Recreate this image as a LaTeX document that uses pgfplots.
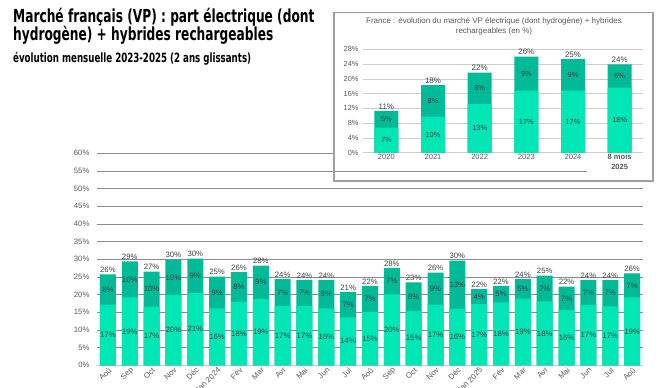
\documentclass[border=0pt]{standalone}
\usepackage{fontspec}
\setmainfont{Liberation Sans}
\newfontfamily\titlefont{DejaVu Sans}[FakeStretch=0.68]
\usepackage{pgfplots}
\usepackage{pgfplotstable}
\pgfplotsset{compat=1.18}
\definecolor{light}{HTML}{00E6B4}
\definecolor{dark}{HTML}{00BA98}
\definecolor{txt}{HTML}{404040}
\definecolor{axt}{HTML}{595959}
\definecolor{grd}{HTML}{8C8C8C}

\pgfplotstableread{
x bot tot lb lt ltot
0 17.2 25.7 17 8 26
1 19.2 29.4 19 10 29
2 16.6 26.5 17 10 27
3 19.9 29.9 20 10 30
4 20.5 30.2 21 9 30
5 16.1 25.1 16 9 25
6 18.0 26.4 18 8 26
7 18.8 28.2 19 9 28
8 16.8 24.4 17 7 24
9 16.8 24.2 17 7 24
10 16.1 24.2 16 8 24
11 13.6 20.8 14 7 21
12 15.1 22.5 15 7 22
13 20.1 27.6 20 7 28
14 15.4 23.5 15 8 23
15 17.2 26.2 17 9 26
16 16.0 29.6 16 13 30
17 17.3 21.6 17 4 22
18 17.8 22.5 18 5 22
19 18.9 24.4 19 5 24
20 18.1 25.4 18 7 25
21 15.6 22.3 16 7 22
22 17.1 24.2 17 7 24
23 16.7 24.1 17 7 24
24 19.2 26.0 19 7 26
}\maindata

\pgfplotstableread{
x bot tot lb lt ltot
0 6.8 11.3 7 5 11
1 9.75 18.3 10 8 18
2 13.2 21.7 13 8 22
3 16.8 26.0 17 9 26
4 16.8 25.4 17 9 25
5 17.6 23.9 18 6 24
}\insetdata

\pgfplotsset{
  pctlab/.style={nodes near coords={\pgfmathprintnumber[fixed,precision=0]{\pgfplotspointmeta}\%},
    point meta=explicit},
}

\begin{document}
\begin{tikzpicture}[x=1bp,y=1bp]
\path[use as bounding box] (0,0) rectangle (663,387);

% titles
\node[anchor=base west, inner sep=0pt, font=\titlefont\bfseries\fontsize{18}{20}\selectfont] at (13,364.5) {Marché français (VP) : part électrique (dont};
\node[anchor=base west, inner sep=0pt, font=\titlefont\bfseries\fontsize{18}{20}\selectfont] at (13,347) {hydrogène) + hybrides rechargeables};
\node[anchor=base west, inner sep=0pt, font=\titlefont\bfseries\fontsize{12.8}{14}\selectfont] at (13,324.5) {évolution mensuelle 2023-2025 (2 ans glissants)};

% main chart
\begin{axis}[
  at={(97bp,21.7bp)}, anchor=south west,
  scale only axis, width=546bp, height=212bp,
  xmin=-0.5, xmax=24.5, ymin=0, ymax=60,
  ytick={0,5,...,60},
  /pgf/number format/assume math mode=true,
  yticklabel={\pgfmathprintnumber{\tick}\%},
  yticklabel style={font=\fontsize{7.8}{9}\selectfont, text=axt, xshift=-4bp},
  xtick={0,...,24},
  xticklabels={Aoû,Sep,Oct,Nov,Déc,Jan 2024,Fév,Mar,Avr,Mai,Jun,Jul,Aoû,Sep,Oct,Nov,Déc,Jan 2025,Fév,Mar,Avr,Mai,Jun,Jul,Aoû},
  xticklabel style={font=\fontsize{7.8}{9}\selectfont, text=axt, rotate=45, anchor=north east, inner sep=1pt},
  major tick length=0pt,
  axis lines*=left,
  y axis line style={draw=none},
  x axis line style={draw=gray!45, line width=1.5pt},
  ymajorgrids, grid style={draw=grd, line width=0.7pt},
  clip=false,
]
\addplot[ybar, bar width=16bp, bar shift=0pt, fill=dark, draw=none] table[x=x,y=tot] \maindata;
\addplot[ybar, bar width=16bp, bar shift=0pt, fill=light, draw=none] table[x=x,y=bot] \maindata;
\addplot[draw=none, pctlab, nodes near coords style={anchor=center, font=\fontsize{7.8}{9}\selectfont, text=txt, inner sep=0pt}] table[x=x, y expr=\thisrow{bot}/2, meta=lb] \maindata;
\addplot[draw=none, pctlab, nodes near coords style={anchor=center, font=\fontsize{7.8}{9}\selectfont, text=txt, inner sep=0pt}] table[x=x, y expr=(\thisrow{bot}+\thisrow{tot})/2, meta=lt] \maindata;
\addplot[draw=none, pctlab, nodes near coords style={anchor=south, font=\fontsize{7.8}{9}\selectfont, text=txt, inner sep=1.5pt}] table[x=x, y=tot, meta=ltot] \maindata;
\end{axis}

% inset box
\filldraw[fill=white, draw=gray!75, line width=1.2pt] (334,206) rectangle (653,374.5);
\draw[grd, line width=0.7pt] (334,215.5) -- (587,215.5);
\node[align=center, font=\fontsize{8}{10}\selectfont, text=axt, inner sep=0pt] at (494,360.5) {France : évolution du marché VP électrique (dont hydrogène) + hybrides\\rechargeables (en \%)};

\begin{axis}[
  at={(363bp,234.3bp)}, anchor=south west,
  scale only axis, width=280bp, height=103.4bp,
  xmin=-0.5, xmax=5.5, ymin=0, ymax=28,
  ytick={0,4,...,28},
  /pgf/number format/assume math mode=true,
  yticklabel={\pgfmathprintnumber{\tick}\%},
  yticklabel style={font=\fontsize{7.4}{9}\selectfont, text=axt, xshift=-1bp},
  xtick={0,...,5},
  xticklabels={2020,2021,2022,2023,2024,{\textbf{8 mois}\\\textbf{2025}}},
  xticklabel style={font=\fontsize{7.6}{9.5}\selectfont, text=axt, align=center, inner sep=1.5pt},
  major tick length=0pt,
  axis lines*=left,
  y axis line style={draw=none},
  x axis line style={draw=gray!40, line width=1pt},
  ymajorgrids, grid style={draw=gray!40, line width=0.6pt},
  clip=false,
]
\addplot[ybar, bar width=24bp, bar shift=0pt, fill=dark, draw=none] table[x=x,y=tot] \insetdata;
\addplot[ybar, bar width=24bp, bar shift=0pt, fill=light, draw=none] table[x=x,y=bot] \insetdata;
\addplot[draw=none, pctlab, nodes near coords style={anchor=center, font=\fontsize{7.4}{9}\selectfont, text=txt, inner sep=0pt}] table[x=x, y expr=\thisrow{bot}/2, meta=lb] \insetdata;
\addplot[draw=none, pctlab, nodes near coords style={anchor=center, font=\fontsize{7.4}{9}\selectfont, text=txt, inner sep=0pt}] table[x=x, y expr=(\thisrow{bot}+\thisrow{tot})/2, meta=lt] \insetdata;
\addplot[draw=none, pctlab, nodes near coords style={anchor=south, font=\fontsize{8}{9}\selectfont, text=txt, inner sep=1.5pt}] table[x=x, y=tot, meta=ltot] \insetdata;
\end{axis}
\end{tikzpicture}
\end{document}
